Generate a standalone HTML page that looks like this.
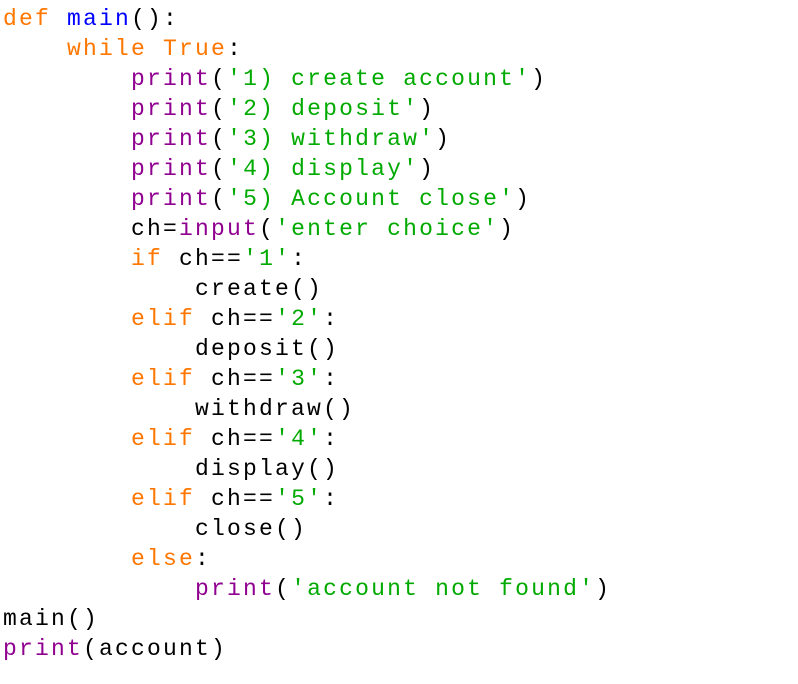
<!DOCTYPE html>
<html><head><meta charset="utf-8"><style>
html,body{margin:0;padding:0;background:#fff;width:798px;height:684px;overflow:hidden}
pre{margin:0;position:absolute;left:3px;top:4px;font-family:"Liberation Mono","Courier New",monospace;font-size:23px;letter-spacing:2.2px;line-height:30px;color:#000}
.k{color:#ff7700}.b{color:#900090}.s{color:#00aa00}.d{color:#0000ff}
</style></head><body><pre><span class="k">def</span> <span class="d">main</span>():
    <span class="k">while</span> <span class="k">True</span>:
        <span class="b">print</span>(<span class="s">'1) create account'</span>)
        <span class="b">print</span>(<span class="s">'2) deposit'</span>)
        <span class="b">print</span>(<span class="s">'3) withdraw'</span>)
        <span class="b">print</span>(<span class="s">'4) display'</span>)
        <span class="b">print</span>(<span class="s">'5) Account close'</span>)
        ch=<span class="b">input</span>(<span class="s">'enter choice'</span>)
        <span class="k">if</span> ch==<span class="s">'1'</span>:
            create()
        <span class="k">elif</span> ch==<span class="s">'2'</span>:
            deposit()
        <span class="k">elif</span> ch==<span class="s">'3'</span>:
            withdraw()
        <span class="k">elif</span> ch==<span class="s">'4'</span>:
            display()
        <span class="k">elif</span> ch==<span class="s">'5'</span>:
            close()
        <span class="k">else</span>:
            <span class="b">print</span>(<span class="s">'account not found'</span>)
main()
<span class="b">print</span>(account)</pre></body></html>
